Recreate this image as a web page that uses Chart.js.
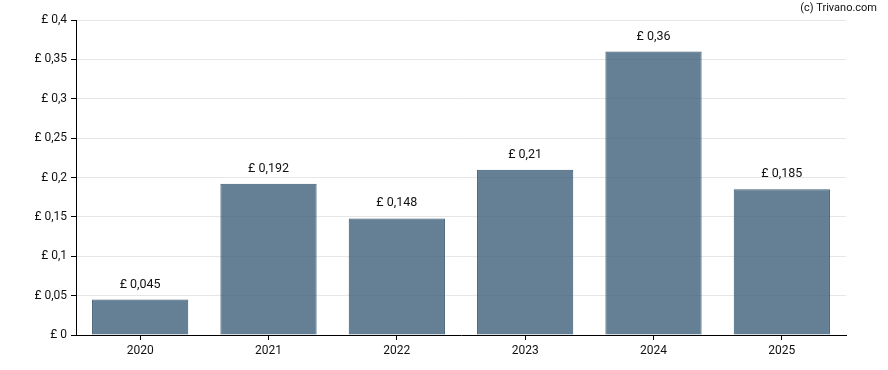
<!DOCTYPE html>
<html>
<head>
<meta charset="utf-8">
<script src="https://cdn.jsdelivr.net/npm/chart.js@4/dist/chart.umd.min.js"></script>
<style>
  html, body { margin: 0; padding: 0; background: #fff; }
  #wrap { width: 888px; height: 370px; }
</style>
</head>
<body>
<div id="wrap"><canvas id="myChart" width="888" height="370"></canvas></div>
<script>
var years = ["2020", "2021", "2022", "2023", "2024", "2025"];
var dividends = [0.045, 0.192, 0.148, 0.21, 0.36, 0.185];
var labelsOnBars = ["£ 0,045", "£ 0,192", "£ 0,148", "£ 0,21", "£ 0,36", "£ 0,185"];

var fontFam = "Roboto, 'Liberation Sans', sans-serif";

function fmt(v) {
  var s = (Math.round(v * 1000) / 1000).toString().replace(".", ",");
  return "£ " + s;
}

// labels above each bar + watermark
var barLabels = {
  id: 'barLabels',
  afterDatasetsDraw: function(chart) {
    var ctx = chart.ctx;
    var meta = chart.getDatasetMeta(0);
    ctx.save();
    ctx.font = "12.5px " + fontFam;
    ctx.fillStyle = "#111";
    ctx.textAlign = "center";
    ctx.textBaseline = "alphabetic";
    meta.data.forEach(function(bar, i) {
      ctx.fillText(labelsOnBars[i], bar.x, bar.y - 12);
    });
    ctx.textAlign = "right";
    ctx.textBaseline = "top";
    ctx.font = "11px " + fontFam;
    ctx.fillText("(c) Trivano.com", 877, 3);
    ctx.restore();
  }
};

var ctx = document.getElementById('myChart').getContext('2d');
var chart = new Chart(ctx, {
  type: 'bar',
  data: {
    labels: years,
    datasets: [{
      data: dividends,
      backgroundColor: 'rgba(62, 96, 121, 0.8)',
      borderColor: '#3f5f78',
      borderWidth: 1,
      categoryPercentage: 1,
      barPercentage: 0.75
    }]
  },
  options: {
    responsive: false,
    animation: false,
    layout: { padding: { top: 20, right: 42, left: 0, bottom: 0 } },
    plugins: { legend: { display: false }, tooltip: { enabled: false } },
    scales: {
      x: {
        grid: { offset: false, drawOnChartArea: false, drawTicks: true, tickLength: 5, color: '#000' },
        border: { color: '#000', width: 1 },
        ticks: { color: '#111', font: { size: 12, family: fontFam }, padding: 4 },
        afterFit: function(s) { s.height = 35; }
      },
      y: {
        min: 0,
        max: 0.4,
        grid: { color: '#e6e6e6', tickColor: '#000', tickLength: 5 },
        border: { color: '#000', width: 1 },
        ticks: {
          stepSize: 0.05,
          color: '#111',
          font: { size: 12, family: fontFam },
          padding: 4,
          callback: function(v) { return fmt(v); }
        },
        afterFit: function(s) { s.width = 76; }
      }
    }
  },
  plugins: [barLabels]
});
</script>
</body>
</html>
